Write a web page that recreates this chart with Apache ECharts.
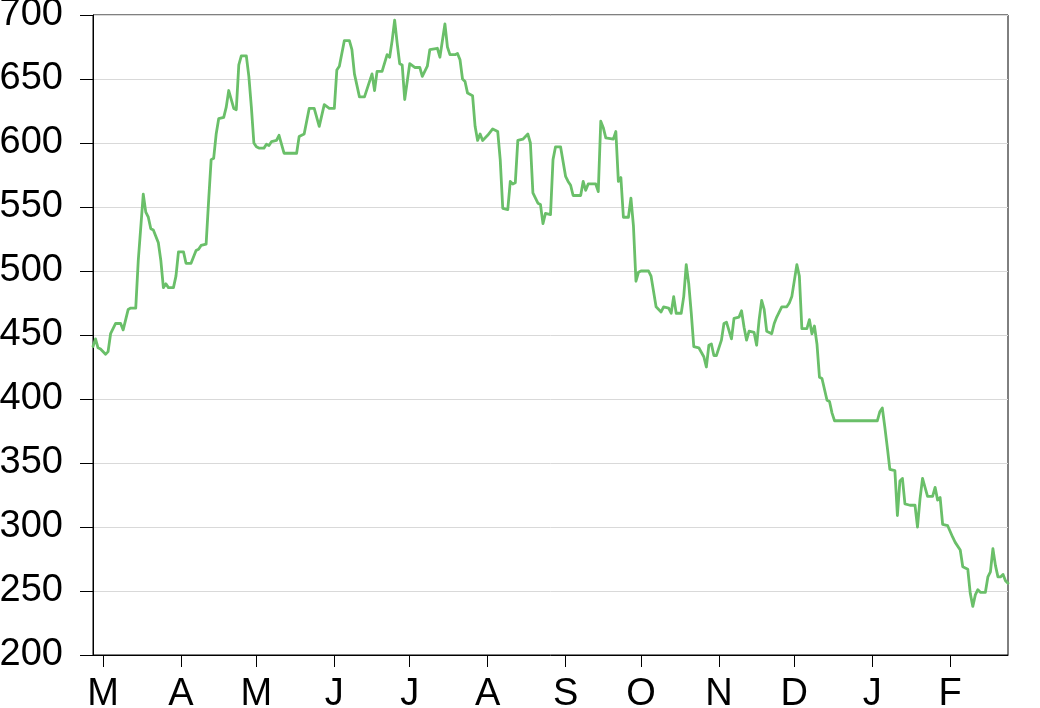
<!DOCTYPE html>
<html>
<head>
<meta charset="utf-8">
<script src="https://cdn.jsdelivr.net/npm/echarts@6/dist/echarts.min.js"></script>
<style>
html,body{margin:0;padding:0;background:#fff;}
#chart{width:1040px;height:708px;}
</style>
</head>
<body>
<div id="chart"></div>
<script>
// Axis range and tick labels
var startDate = '2008-02-26';
var endDate = '2009-02-24';
var monthLetters = ['J','F','M','A','M','J','J','A','S','O','N','D'];
var yTicks = [200, 250, 300, 350, 400, 450, 500, 550, 600, 650, 700];

// Series
var dates = [
'2008-02-26','2008-02-27','2008-02-28','2008-02-29','2008-03-02','2008-03-03','2008-03-04','2008-03-06','2008-03-08','2008-03-09',
'2008-03-11','2008-03-12','2008-03-14','2008-03-15','2008-03-17','2008-03-18','2008-03-19','2008-03-20','2008-03-21','2008-03-23',
'2008-03-24','2008-03-25','2008-03-26','2008-03-27','2008-03-29','2008-03-30','2008-03-31','2008-04-02','2008-04-03','2008-04-05',
'2008-04-07','2008-04-08','2008-04-09','2008-04-11','2008-04-12','2008-04-13','2008-04-14','2008-04-15','2008-04-16','2008-04-18',
'2008-04-19','2008-04-20','2008-04-22','2008-04-23','2008-04-24','2008-04-25','2008-04-27','2008-04-28','2008-04-29','2008-04-30',
'2008-05-01','2008-05-02','2008-05-04','2008-05-05','2008-05-06','2008-05-07','2008-05-09','2008-05-10','2008-05-12','2008-05-17',
'2008-05-18','2008-05-20','2008-05-22','2008-05-24','2008-05-26','2008-05-28','2008-05-30','2008-06-01','2008-06-02','2008-06-03',
'2008-06-05','2008-06-07','2008-06-08','2008-06-09','2008-06-11','2008-06-13','2008-06-16','2008-06-17','2008-06-18','2008-06-20',
'2008-06-22','2008-06-23','2008-06-24','2008-06-25','2008-06-26','2008-06-27','2008-06-28','2008-06-29','2008-07-01','2008-07-03',
'2008-07-05','2008-07-06','2008-07-08','2008-07-09','2008-07-12','2008-07-13','2008-07-15','2008-07-16','2008-07-17','2008-07-19',
'2008-07-20','2008-07-21','2008-07-22','2008-07-23','2008-07-24','2008-07-26','2008-07-27','2008-07-28','2008-07-29','2008-07-30',
'2008-08-01','2008-08-03','2008-08-05','2008-08-06','2008-08-07','2008-08-09','2008-08-10','2008-08-11','2008-08-12','2008-08-13',
'2008-08-15','2008-08-17','2008-08-18','2008-08-19','2008-08-21','2008-08-22','2008-08-23','2008-08-24','2008-08-26','2008-08-27',
'2008-08-28','2008-08-30','2008-09-01','2008-09-02','2008-09-03','2008-09-04','2008-09-07','2008-09-08','2008-09-09','2008-09-10',
'2008-09-13','2008-09-14','2008-09-15','2008-09-16','2008-09-17','2008-09-20','2008-09-21','2008-09-22','2008-09-23','2008-09-24',
'2008-09-26','2008-09-27','2008-09-28','2008-09-29','2008-09-30','2008-10-01','2008-10-04','2008-10-05','2008-10-07','2008-10-09',
'2008-10-10','2008-10-12','2008-10-13','2008-10-14','2008-10-15','2008-10-17','2008-10-18','2008-10-19','2008-10-20','2008-10-21',
'2008-10-22','2008-10-24','2008-10-26','2008-10-27','2008-10-28','2008-10-29','2008-10-30','2008-10-31','2008-11-02','2008-11-03',
'2008-11-04','2008-11-06','2008-11-07','2008-11-09','2008-11-10','2008-11-11','2008-11-12','2008-11-13','2008-11-15','2008-11-16',
'2008-11-17','2008-11-18','2008-11-19','2008-11-20','2008-11-22','2008-11-23','2008-11-24','2008-11-26','2008-11-28','2008-11-29',
'2008-11-30','2008-12-02','2008-12-03','2008-12-04','2008-12-06','2008-12-07','2008-12-08','2008-12-09','2008-12-10','2008-12-11',
'2008-12-12','2008-12-14','2008-12-15','2008-12-16','2008-12-17','2009-01-03','2009-01-04','2009-01-05','2009-01-06','2009-01-07',
'2009-01-08','2009-01-10','2009-01-11','2009-01-12','2009-01-13','2009-01-14','2009-01-16','2009-01-18','2009-01-19','2009-01-20',
'2009-01-21','2009-01-23','2009-01-25','2009-01-26','2009-01-27','2009-01-28','2009-01-29','2009-01-31','2009-02-02','2009-02-03',
'2009-02-05','2009-02-06','2009-02-08','2009-02-09','2009-02-10','2009-02-11','2009-02-12','2009-02-13','2009-02-15','2009-02-16',
'2009-02-17','2009-02-18','2009-02-19','2009-02-20','2009-02-21','2009-02-22','2009-02-23','2009-02-24'
];
var prices = [
441,447,440,439,435,437,451,459,459,454,
470,471,471,508,560,546,542,533,532,522,
508,487,490,487,487,496,515,515,506,506,
516,517,520,521,555,587,588,607,619,620,
628,641,627,626,661,668,668,652,628,600,
597,596,596,599,598,601,602,606,592,592,
605,607,627,627,613,630,627,627,657,660,
680,680,673,654,636,636,654,641,656,656,
669,667,680,696,678,662,661,634,662,659,
659,652,660,673,674,667,693,675,669,669,
670,665,650,648,639,637,613,602,607,602,
606,611,609,587,549,548,570,568,569,602,
603,607,600,561,553,552,537,545,544,587,
597,597,574,570,567,559,559,570,563,568,
568,562,617,612,604,603,609,570,573,542,
542,557,535,492,499,500,500,496,472,468,
472,471,467,480,467,467,480,505,490,467,
441,440,433,425,442,443,434,434,446,459,
460,447,463,464,469,456,446,453,452,442,
462,477,470,453,451,459,464,472,472,475,
480,505,496,455,455,462,451,457,443,417,
416,399,398,389,383,383,390,393,378,362,
345,344,309,336,338,318,317,317,300,322,
338,324,324,331,321,323,302,301,292,288,
282,269,267,248,238,247,251,249,249,261,
265,283,270,261,261,263,258,256
];

// Build the daily category list for the axis
function pad(n){ return n < 10 ? '0' + n : '' + n; }
var categories = [];
(function(){
  var p = startDate.split('-');
  var d = new Date(Date.UTC(+p[0], +p[1]-1, +p[2]));
  var e = endDate.split('-');
  var end = Date.UTC(+e[0], +e[1]-1, +e[2]);
  while (d.getTime() <= end) {
    categories.push(d.getUTCFullYear() + '-' + pad(d.getUTCMonth()+1) + '-' + pad(d.getUTCDate()));
    d = new Date(d.getTime() + 86400000);
  }
})();

var seriesData = dates.map(function(dt, i){ return [dt, prices[i]]; });

function isMonthStart(idx, val) {
  var v = (typeof val === 'string') ? val : categories[idx];
  return v.slice(8) === '01';
}

var chart = echarts.init(document.getElementById('chart'), null, {renderer: 'canvas'});
chart.setOption({
  animation: false,
  backgroundColor: '#ffffff',
  grid: {
    left: 93, right: 32, top: 15, bottom: 53,
    containLabel: false,
    outerBoundsMode: 'none',
    show: true, borderColor: '#000', borderWidth: 1, backgroundColor: 'transparent'
  },
  xAxis: {
    type: 'category',
    data: categories,
    boundaryGap: false,
    axisLine: {show: true, lineStyle: {color: '#000', width: 1}},
    axisTick: {show: true, length: 12, interval: isMonthStart, lineStyle: {color: '#000', width: 1}},
    axisLabel: {
      interval: isMonthStart,
      margin: 21,
      color: '#000',
      fontSize: 38,
      fontFamily: 'Liberation Sans',
      formatter: function(v){ return monthLetters[parseInt(v.slice(5,7), 10) - 1]; }
    },
    splitLine: {show: false}
  },
  yAxis: {
    type: 'value',
    min: yTicks[0],
    max: yTicks[yTicks.length - 1],
    interval: yTicks[1] - yTicks[0],
    axisLine: {show: true, lineStyle: {color: '#000', width: 1}},
    axisTick: {show: true, length: 13, lineStyle: {color: '#000', width: 1}},
    axisLabel: {
      margin: 30,
      color: '#000',
      fontSize: 38,
      fontFamily: 'Liberation Sans'
    },
    splitLine: {show: true, lineStyle: {color: '#d9d9d9', width: 1}}
  },
  series: [{
    type: 'line',
    data: seriesData,
    showSymbol: false,
    symbol: 'none',
    lineStyle: {color: '#6abf69', width: 2.8, join: 'round', cap: 'round'},
    itemStyle: {color: '#6abf69'}
  }]
});
</script>
</body>
</html>
